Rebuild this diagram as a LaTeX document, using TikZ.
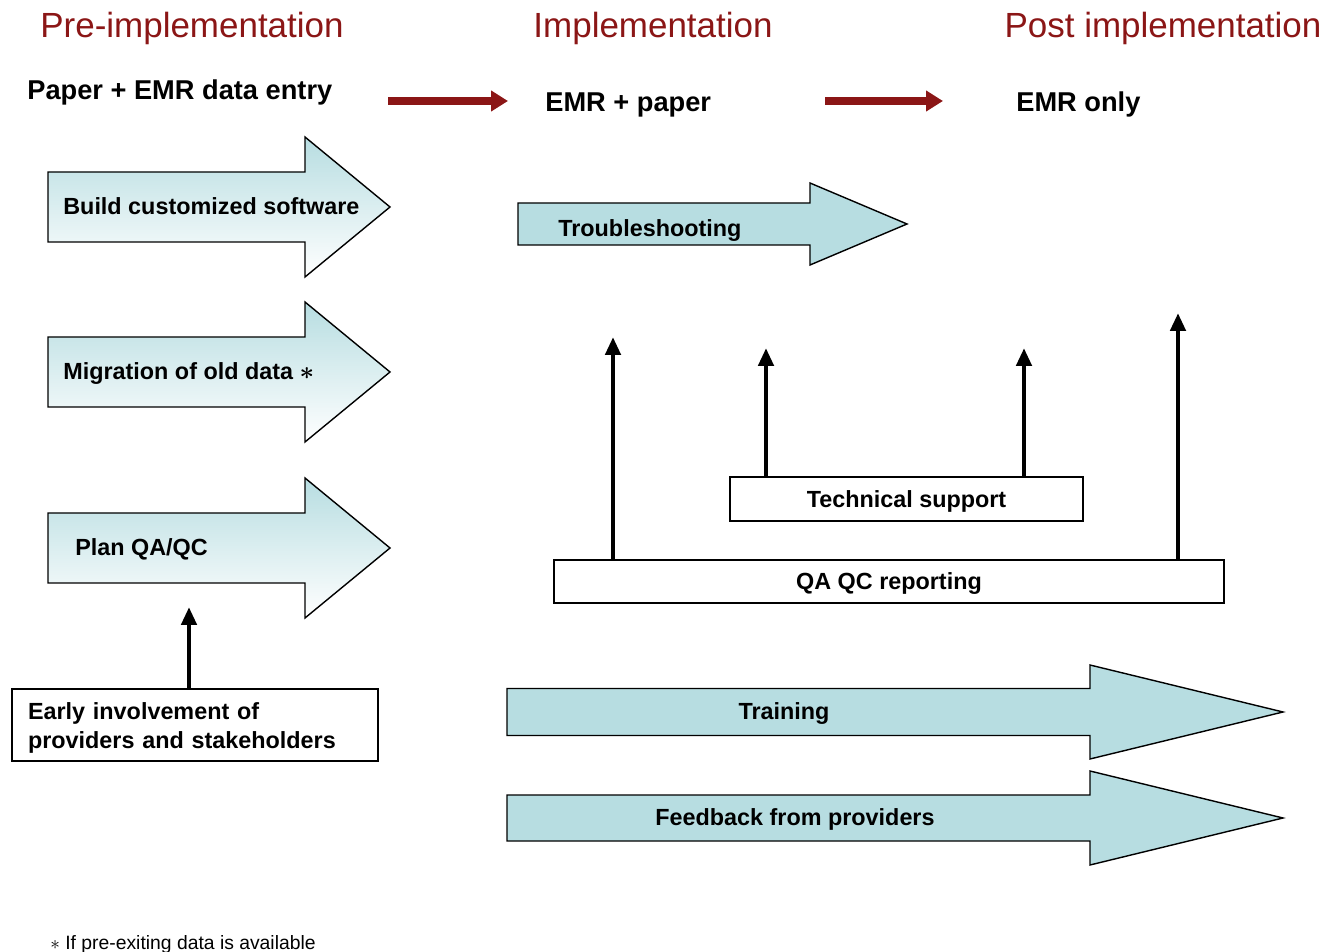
\documentclass[tikz,border=0pt]{standalone}
\usepackage{fontspec}
\setmainfont{Liberation Sans}
\usetikzlibrary{arrows.meta}

\definecolor{phasered}{RGB}{139,22,22}
\definecolor{steplight}{RGB}{183,221,225}

% block arrow: style, shaft start, head base, tip, centre line, shaft half, head half
\newcommand*{\blockarrow}[7]{%
	\draw[#1] (#2,{#5-#6}) -- (#3,{#5-#6}) -- (#3,{#5-#7}) -- (#4,#5)
	  -- (#3,{#5+#7}) -- (#3,{#5+#6}) -- (#2,{#5+#6}) -- cycle;}

\begin{document}
\begin{tikzpicture}
[
	x=0.02cm, y=-0.02cm,
	phase/.style={text=phasered,text depth=0pt,font=\fontsize{19.9}{24}\selectfont},
	stage/.style={font=\fontsize{15.5}{19}\selectfont\bfseries,text depth=0pt,anchor=west,inner sep=0pt},
	steptext/.style={font=\fontsize{13.3}{16}\selectfont\bfseries,text depth=0pt,inner sep=0pt},
	box/.style={draw,thick,fill=white,text depth=0pt,font=\fontsize{13.3}{16}\selectfont\bfseries},
	fadearrow/.style={draw=black,thick,top color=steplight,bottom color=white},
	flatarrow/.style={draw=black,thick,fill=steplight},
	uparrow/.style={line width=2.8pt,-{Triangle[length=0.36cm,width=0.3cm]}},
	flowarrow/.style={phasered,line width=4pt,-{Triangle[length=0.34cm,width=0.4cm]}}
]
	\useasboundingbox (0,0) rectangle (1336,952);

	% phases
	\node[phase] (pre) at (192,25) {Pre-implementation};
	\node[phase] (impl) at (653,25) {Implementation};
	\node[phase] (post) at (1163,25) {Post implementation};

	\node[stage] (paper) at (27,90) {Paper + EMR data entry};
	\node[stage] (emrpaper) at (545,102) {EMR + paper};
	\node[stage] (emronly) at (1016,102) {EMR only};

	\coordinate (flowa) at (388,101);
	\coordinate (flowb) at (508,101);
	\coordinate (flowc) at (825,101);
	\coordinate (flowd) at (943,101);
	\draw[flowarrow] (flowa) -- (flowb);
	\draw[flowarrow] (flowc) -- (flowd);

	% pre-implementation steps
	\blockarrow{fadearrow}{48}{305}{390}{207}{35}{70}
	\blockarrow{fadearrow}{48}{305}{390}{372}{35}{70}
	\blockarrow{fadearrow}{48}{305}{390}{548}{35}{70}
	\node[steptext,anchor=west] (build) at (63,206) {Build customized software};
	\node[steptext,anchor=west] (migrate) at (63,371) {Migration of old data {\boldmath$\ast$}};
	\node[steptext,anchor=west] (plan) at (75,547) {Plan QA/QC};

	\node[box,text depth={},text height=13pt,align=left,text width=6.68cm,inner xsep=0.32cm,minimum height=1.44cm]
	  (early) at (195,725) {Early involvement of\\providers and stakeholders};
	\coordinate (planup) at (189,607);
	\draw[uparrow] (early.north -| planup) -- (planup);

	% implementation
	\blockarrow{flatarrow}{518}{810}{907}{224}{21}{41}
	\node[steptext,anchor=west] (trouble) at (558,228) {Troubleshooting};

	\node[box,minimum width=7.06cm,minimum height=0.88cm] (tech) at (906.5,499) {Technical support};
	\node[box,minimum width=13.4cm,minimum height=0.86cm] (qaqc) at (889,581.5) {QA QC reporting};

	\coordinate (qaupa) at (613,337);
	\coordinate (techupa) at (766,348);
	\coordinate (techupb) at (1024,348);
	\coordinate (qaupb) at (1178,313);
	\draw[uparrow] (qaqc.north -| qaupa) -- (qaupa);
	\draw[uparrow] (tech.north -| techupa) -- (techupa);
	\draw[uparrow] (tech.north -| techupb) -- (techupb);
	\draw[uparrow] (qaqc.north -| qaupb) -- (qaupb);

	\blockarrow{flatarrow}{507}{1090}{1283}{712}{23.5}{47}
	\blockarrow{flatarrow}{507}{1090}{1283}{818}{23}{47}
	\node[steptext] (training) at (784,711) {Training};
	\node[steptext] (feedback) at (795,817) {Feedback from providers};

	% footnote
	\node[anchor=base west,inner sep=0pt,font=\fontsize{11}{13}\selectfont] (note)
	  at (50,949) {$\ast$ If pre-exiting data is available};

\end{tikzpicture}
\end{document}
